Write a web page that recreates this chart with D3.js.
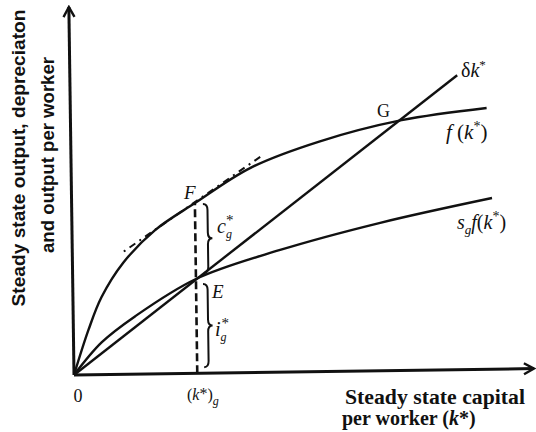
<!DOCTYPE html>
<html>
<head>
<meta charset="utf-8">
<script src="https://cdnjs.cloudflare.com/ajax/libs/d3/7.8.5/d3.min.js"></script>
<style>
  body { margin: 0; background: #fff; }
  svg { display: block; }
</style>
</head>
<body>
<div id="chart-area"></div>
<script>
// curve readings (k in chart units, 46px per unit)
var fK = [0, 0.33, 0.62, 1.1, 1.8, 2.68, 3.9, 5.4, 7.2, 9.05];
var fY = [0, 0.98, 1.68, 2.42, 3.12, 3.70, 4.45, 5.0, 5.44, 5.68];
var sfK = [0, 0.61, 1.35, 2.68, 4.5, 6.68, 9.14];
var sfY = [0, 0.70, 1.26, 2.05, 2.65, 3.21, 3.72];
var depK = [0, 8.42];
var depY = [0, 6.40];
var tanK = [1.12, 4.15];
var tanY = [2.67, 4.71];
var kGold = 2.68;
var fGold = 3.70;
var iGold = 2.05;

var width = 536, height = 432;
var serif = "'Liberation Serif', 'Times New Roman', serif";

var svg = d3.select("#chart-area")
    .append("svg")
    .attr("width", width)
    .attr("height", height);

svg.append("rect").attr("width", width).attr("height", height).attr("fill", "#fff");

var x = d3.scaleLinear().domain([0, 10]).range([74, 534]);
var y = d3.scaleLinear().domain([0, 8]).range([375, 7]);

svg.append("defs").append("marker")
    .attr("id", "arrow")
    .attr("markerUnits", "userSpaceOnUse")
    .attr("viewBox", "-12 -7 14 14")
    .attr("markerWidth", 14)
    .attr("markerHeight", 14)
    .attr("refX", 0)
    .attr("refY", 0)
    .attr("orient", "auto")
  .append("path")
    .attr("d", "M-10,-5.5L0,0L-10,5.5")
    .attr("fill", "none")
    .attr("stroke", "#111")
    .attr("stroke-width", 2.4);

// the scan is slightly tilted
var g = svg.append("g")
    .attr("transform", "rotate(-0.8," + x(0) + "," + y(0) + ")");

// axes
g.append("line")
    .attr("x1", x(0)).attr("y1", y(0))
    .attr("x2", x(10)).attr("y2", y(0))
    .attr("stroke", "#111").attr("stroke-width", 3)
    .attr("marker-end", "url(#arrow)");
g.append("line")
    .attr("x1", x(0)).attr("y1", y(0))
    .attr("x2", x(0)).attr("y2", y(8))
    .attr("stroke", "#111").attr("stroke-width", 3)
    .attr("marker-end", "url(#arrow)");

var line = d3.line()
    .x(function (d) { return x(d[0]); })
    .y(function (d) { return y(d[1]); })
    .curve(d3.curveCatmullRom.alpha(0.5));

function pairs(a, b) {
    return a.map(function (v, i) { return [v, b[i]]; });
}

[pairs(fK, fY), pairs(sfK, sfY), pairs(depK, depY)].forEach(function (pts) {
    g.append("path")
        .attr("d", line(pts))
        .attr("fill", "none")
        .attr("stroke", "#111")
        .attr("stroke-width", 2.4);
});

// tangent at F
g.append("path")
    .attr("d", d3.line()(pairs(tanK, tanY).map(function (d) { return [x(d[0]), y(d[1])]; })))
    .attr("fill", "none")
    .attr("stroke", "#111")
    .attr("stroke-width", 2)
    .attr("stroke-dasharray", "2,5,7,5");

// golden rule k
g.append("line")
    .attr("x1", x(kGold)).attr("y1", y(0))
    .attr("x2", x(kGold)).attr("y2", y(fGold))
    .attr("stroke", "#111")
    .attr("stroke-width", 2.6)
    .attr("stroke-dasharray", "8,4");

function brace(x0, y1, y2, w) {
    var xm = x0 + w / 2, xt = x0 + w, mid = (y1 + y2) / 2, c = 6;
    return "M" + x0 + "," + y1 +
        "Q" + xm + "," + y1 + " " + xm + "," + (y1 + c) +
        "L" + xm + "," + (mid - c) +
        "Q" + xm + "," + mid + " " + xt + "," + mid +
        "Q" + xm + "," + mid + " " + xm + "," + (mid + c) +
        "L" + xm + "," + (y2 - c) +
        "Q" + xm + "," + y2 + " " + x0 + "," + y2;
}
g.append("path")
    .attr("d", brace(x(kGold) + 8, y(fGold) + 1, y(iGold) - 6, 9))
    .attr("fill", "none").attr("stroke", "#111").attr("stroke-width", 2);
g.append("path")
    .attr("d", brace(x(kGold) + 7, y(iGold) + 5, y(0) - 6, 9))
    .attr("fill", "none").attr("stroke", "#111").attr("stroke-width", 2);

// math labels
function mathText(parent, px, py, size, parts) {
    var t = parent.append("text")
        .attr("x", px).attr("y", py)
        .attr("font-family", serif)
        .attr("font-size", size)
        .attr("fill", "#111");
    parts.forEach(function (p) {
        t.append("tspan")
            .attr("font-style", p.i ? "italic" : "normal")
            .attr("font-size", p.s || size)
            .attr("dx", p.dx || 0)
            .attr("dy", p.dy || 0)
            .text(p.t);
    });
    return t;
}

mathText(svg, 184, 199, 19, [{ t: "F", i: true }]);
mathText(svg, 212, 298, 19, [{ t: "E", i: true }]);
mathText(svg, 377, 117, 18, [{ t: "G" }]);
mathText(svg, 217, 233, 20, [{ t: "c", i: true }, { t: "g", i: true, s: 12, dy: 5 }, { t: "*", s: 15, dx: -6, dy: -13 }]);
mathText(svg, 215, 336, 20, [{ t: "i", i: true }, { t: "g", i: true, s: 12, dy: 5 }, { t: "*", s: 15, dx: -5, dy: -13 }]);
mathText(svg, 461, 77, 20, [{ t: "δ" }, { t: "k", i: true }, { t: "*", s: 13, dy: -8 }]);
mathText(svg, 446, 139, 21, [{ t: "f", i: true }, { t: " (" }, { t: "k", i: true }, { t: "*", s: 14, dy: -8 }, { t: ")", dy: 8 }]);
mathText(svg, 457, 229, 20, [{ t: "s", i: true }, { t: "g", i: true, s: 13, dy: 5 }, { t: "f", i: true, dy: -5 }, { t: "(" }, { t: "k", i: true }, { t: "*", s: 14, dy: -8 }, { t: ")", dy: 8 }]);

// x tick labels
mathText(svg, x(0) + 4, 402, 18, [{ t: "0" }]).attr("text-anchor", "middle");
mathText(svg, 187, 400, 16, [{ t: "(" }, { t: "k", i: true }, { t: "*", dy: -1 }, { t: ")", dy: 1 }, { t: "g", i: true, s: 12, dy: 5 }]);

// axis titles
svg.append("text")
    .attr("x", 345).attr("y", 404)
    .attr("font-family", serif).attr("font-size", 20).attr("font-weight", "bold")
    .attr("textLength", 180).attr("lengthAdjust", "spacingAndGlyphs")
    .attr("fill", "#111")
    .text("Steady state capital");
mathText(svg, 342, 425, 20, [{ t: "per worker (" }, { t: "k", i: true }, { t: "*" }, { t: ")" }])
    .attr("font-weight", "bold");

svg.append("text")
    .attr("transform", "translate(25,158) rotate(-90)")
    .attr("text-anchor", "middle")
    .attr("font-family", "'Liberation Sans', Arial, sans-serif")
    .attr("font-size", 18).attr("font-weight", "bold")
    .attr("textLength", 297).attr("lengthAdjust", "spacingAndGlyphs")
    .attr("fill", "#111")
    .text("Steady state output, depreciaton");
svg.append("text")
    .attr("transform", "translate(54,155) rotate(-90)")
    .attr("text-anchor", "middle")
    .attr("font-family", "'Liberation Sans', Arial, sans-serif")
    .attr("font-size", 18).attr("font-weight", "bold")
    .attr("textLength", 196).attr("lengthAdjust", "spacingAndGlyphs")
    .attr("fill", "#111")
    .text("and output per worker");
</script>
</body>
</html>
